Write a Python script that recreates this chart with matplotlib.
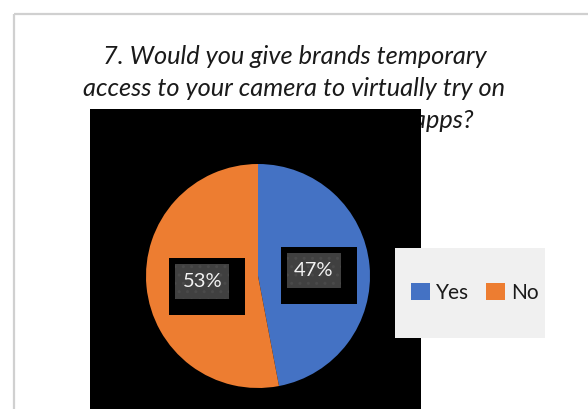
import numpy as np
import matplotlib
matplotlib.use("Agg")
import matplotlib.pyplot as plt
from matplotlib.patches import Rectangle, Patch

# Survey answers
answers = ["Yes", "No"]
shares = [47, 53]
colors = ["#4472C4", "#ED7D31"]
title_lines = [
    "7. Would you give brands temporary",
    "access to your camera to virtually try on",
    "products through the brands' apps?",
]

W, H = 588, 409
fig = plt.figure(figsize=(W / 100, H / 100), dpi=100)
ax = fig.add_axes([0, 0, 1, 1])
ax.set_xlim(0, W)
ax.set_ylim(0, H)
ax.set_aspect("equal")
ax.axis("off")

def Y(y):
    # pixel row (from top) -> axes y
    return H - y

# chart frame
ax.plot([14, 14], [Y(14), 0], color="#d0d0d0", lw=1.6, solid_capstyle="butt")
ax.plot([14, W], [Y(14), Y(14)], color="#d0d0d0", lw=1.6, solid_capstyle="butt")

# title
tfont = dict(family=["Lato", "DejaVu Sans"], style="italic", fontsize=18.3, color="#1a1a1a")
ax.text(295, Y(57), title_lines[0], ha="center", va="center", **tfont)
ax.text(294, Y(89), title_lines[1], ha="center", va="center", **tfont)
ax.text(474, Y(121), title_lines[2], ha="right", va="center", **tfont)

# black backdrop behind the pie
ax.add_patch(Rectangle((90, 0), 421 - 90, Y(109), facecolor="black", zorder=3))

# pie
cx, cy, r = 258, Y(276), 112
wedges, _ = ax.pie(shares, colors=colors, startangle=90, counterclock=False,
                   center=(cx, cy), radius=r, wedgeprops=dict(linewidth=0))
for w in wedges:
    w.set_zorder(4)
ax.set_xlim(0, W)
ax.set_ylim(0, H)

# data labels
start = 90.0
for val in shares:
    sweep = 360.0 * val / sum(shares)
    mid = np.deg2rad(start - sweep / 2)
    start -= sweep
    lx = cx + 0.5 * r * np.cos(mid)
    ly = cy + 0.5 * r * np.sin(mid)
    iw, ih = 54, 35
    ax.add_patch(Rectangle((lx - iw / 2 - 6, ly - ih / 2 - 16), 76, 57,
                           facecolor="black", zorder=5))
    ax.add_patch(Rectangle((lx - iw / 2, ly - ih / 2), iw, ih,
                           facecolor="#404040", edgecolor="#4a4a4a", hatch="..",
                           linewidth=0, zorder=6))
    ax.text(lx, ly, f"{val}%", ha="center", va="center", color="#f2f2f2",
            fontsize=14.5, family=["Lato", "DejaVu Sans"], zorder=7)

# legend
ax.add_patch(Rectangle((395, Y(338)), 150, 90, facecolor="#f0f0f0", zorder=5))
handles = [Patch(facecolor=c, edgecolor="none") for c in colors]
leg = ax.legend(handles, answers, ncol=2, frameon=False,
                loc="center", bbox_to_anchor=(475 / W, Y(293) / H),
                prop=dict(family=["Lato", "DejaVu Sans"], size=15),
                handlelength=0.9, handleheight=0.9, handletextpad=0.3,
                columnspacing=0.8, labelcolor="#1a1a1a")
leg.set_zorder(8)

fig.savefig("out.png", dpi=100)
